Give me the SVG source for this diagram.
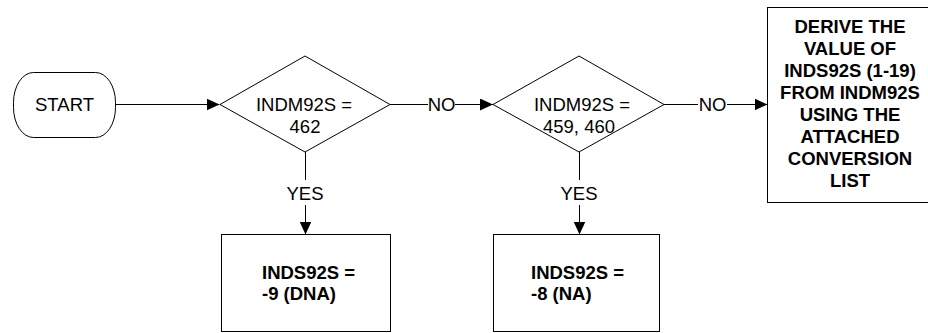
<svg xmlns="http://www.w3.org/2000/svg" width="928" height="333" viewBox="0 0 928 333">
  <defs>
    <style>
      .shape { fill: #ffffff; stroke: #000000; stroke-width: 1; }
      .line { fill: none; stroke: #000000; stroke-width: 1; }
      .txt { font-family: "Liberation Sans", Arial, sans-serif; font-size: 18.5px; fill: #000000; text-anchor: middle; }
      .b { font-weight: bold; }
      .start { text-anchor: start; }
    </style>
    <marker id="arrow" viewBox="0 0 13 12" refX="13" refY="6" markerWidth="13" markerHeight="12" markerUnits="userSpaceOnUse" orient="auto">
      <path d="M0,0 L13,6 L0,12 Z" fill="#000000"/>
    </marker>
  </defs>
  <rect width="928" height="333" fill="#ffffff"/>

  <g id="connectors">
    <line class="line" x1="116" y1="104.5" x2="219.5" y2="104.5" marker-end="url(#arrow)"/>
    <line class="line" x1="390" y1="104.5" x2="428" y2="104.5"/>
    <text class="txt" x="441.5" y="111">NO</text>
    <line class="line" x1="455" y1="104.5" x2="493" y2="104.5" marker-end="url(#arrow)"/>
    <line class="line" x1="664" y1="104.5" x2="698" y2="104.5"/>
    <text class="txt" x="712.5" y="111">NO</text>
    <line class="line" x1="727" y1="104.5" x2="767.5" y2="104.5" marker-end="url(#arrow)"/>
    <line class="line" x1="305.5" y1="152" x2="305.5" y2="180"/>
    <text class="txt" x="305" y="199.5">YES</text>
    <line class="line" x1="305.5" y1="205" x2="305.5" y2="234.5" marker-end="url(#arrow)"/>
    <line class="line" x1="579.5" y1="152" x2="579.5" y2="180"/>
    <text class="txt" x="579" y="199.5">YES</text>
    <line class="line" x1="579.5" y1="205" x2="579.5" y2="234.5" marker-end="url(#arrow)"/>
  </g>

  <g id="start">
    <rect class="shape" x="13.5" y="72.5" width="102" height="65" rx="20" ry="30"/>
    <text class="txt" x="64.5" y="111">START</text>
  </g>

  <g id="decision1">
    <polygon class="shape" points="220,104.5 305,56 390,104.5 305,152"/>
    <text class="txt" x="304" y="111">INDM92S =</text>
    <text class="txt" x="305" y="133">462</text>
  </g>

  <g id="decision2">
    <polygon class="shape" points="493,104.5 579,56 664,104.5 579,152"/>
    <text class="txt" x="582" y="111">INDM92S =</text>
    <text class="txt" x="579" y="133">459, 460</text>
  </g>

  <g id="derive">
    <rect class="shape" x="767.5" y="7.5" width="170" height="195"/>
    <text class="txt b" x="850" y="33">DERIVE THE</text>
    <text class="txt b" x="850" y="55">VALUE OF</text>
    <text class="txt b" x="850" y="77">INDS92S (1-19)</text>
    <text class="txt b" x="850" y="99">FROM INDM92S</text>
    <text class="txt b" x="850" y="121">USING THE</text>
    <text class="txt b" x="850" y="143">ATTACHED</text>
    <text class="txt b" x="850" y="165">CONVERSION</text>
    <text class="txt b" x="850" y="187">LIST</text>
  </g>

  <g id="dna">
    <rect class="shape" x="221.5" y="234.5" width="169" height="97"/>
    <text class="txt b start" x="262" y="279">INDS92S =</text>
    <text class="txt b start" x="262" y="299.5">-9 (DNA)</text>
  </g>

  <g id="na">
    <rect class="shape" x="493.5" y="234.5" width="166" height="97"/>
    <text class="txt b start" x="531" y="279">INDS92S =</text>
    <text class="txt b start" x="531" y="299.5">-8 (NA)</text>
  </g>
</svg>
